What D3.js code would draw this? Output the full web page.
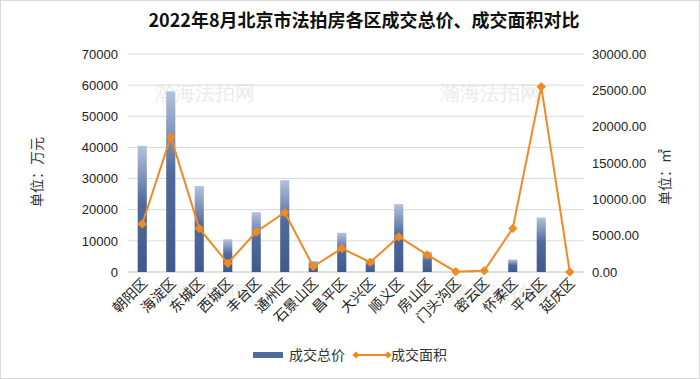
<!DOCTYPE html>
<html>
<head>
<meta charset="utf-8">
<script src="https://cdn.jsdelivr.net/npm/d3@7"></script>
<style>
  body { margin: 0; background: #fff; }
  svg { font-family: "Microsoft YaHei", "Noto Sans CJK SC", "Noto Sans", sans-serif; }
</style>
</head>
<body>
<div id="chart"></div>
<script>
// districts and values
const districts = ['朝阳区', '海淀区', '东城区', '西城区', '丰台区', '通州区', '石景山区', '昌平区',
  '大兴区', '顺义区', '房山区', '门头沟区', '密云区', '怀柔区', '平谷区', '延庆区'];
const totalPrice = [40500, 58000, 27600, 10500, 19200, 29500, 3500, 12600,
  4000, 21800, 6500, 0, 0, 4000, 17500, 0];
const totalArea = [6600, 18600, 6000, 1200, 5550, 8200, 750, 3250,
  1350, 4850, 2350, 50, 180, 6000, 25500, 0];
const leftTicks = [0, 10000, 20000, 30000, 40000, 50000, 60000, 70000];
const rightTicks = [0, 5000, 10000, 15000, 20000, 25000, 30000];

const width = 700, height = 379;
const margin = { top: 54, right: 116, bottom: 107, left: 128 };
const innerW = width - margin.left - margin.right;
const innerH = height - margin.top - margin.bottom;

const svg = d3.select('#chart')
  .append('svg')
  .attr('width', width)
  .attr('height', height);

// outer frame
svg.append('rect')
  .attr('x', 0.5).attr('y', 0.5)
  .attr('width', width - 1).attr('height', height - 1)
  .attr('fill', '#fff')
  .attr('stroke', '#d9d9d9');

// bar gradient
const grad = svg.append('defs').append('linearGradient')
  .attr('id', 'barGrad')
  .attr('x1', 0).attr('y1', 0).attr('x2', 0).attr('y2', 1);
grad.append('stop').attr('offset', '0%').attr('stop-color', '#b4c2dc');
grad.append('stop').attr('offset', '45%').attr('stop-color', '#4f6b9c');
grad.append('stop').attr('offset', '100%').attr('stop-color', '#40598a');

// faint watermarks
const marks = [[205, 100], [490, 100], [205, 300], [500, 300]];
svg.selectAll('.wm')
  .data(marks)
  .enter()
  .append('text')
  .attr('x', d => d[0])
  .attr('y', d => d[1])
  .attr('text-anchor', 'middle')
  .attr('fill', '#ebebeb')
  .attr('font-size', 20)
  .attr('font-family', 'serif')
  .text('瀚海法拍网');

const g = svg.append('g')
  .attr('transform', `translate(${margin.left},${margin.top})`);

const x = d3.scaleBand()
  .domain(districts)
  .range([0, innerW])
  .paddingInner(0.68)
  .paddingOuter(0.34);

const yLeft = d3.scaleLinear().domain([0, 70000]).range([innerH, 0]);
const yRight = d3.scaleLinear().domain([0, 30000]).range([innerH, 0]);

// gridlines
g.append('g')
  .selectAll('line')
  .data(leftTicks)
  .enter()
  .append('line')
  .attr('x1', 0).attr('x2', innerW)
  .attr('y1', d => yLeft(d)).attr('y2', d => yLeft(d))
  .attr('stroke', d => d === 0 ? '#bfbfbf' : '#d9d9d9')
  .attr('stroke-width', 1);

// left axis
const leftAxis = g.append('g')
  .call(d3.axisLeft(yLeft).tickValues(leftTicks).tickSize(0).tickPadding(10).tickFormat(d3.format('d')));
leftAxis.select('.domain').remove();
leftAxis.selectAll('text').attr('font-size', 13).attr('fill', '#222');

// right axis
const rightAxis = g.append('g')
  .attr('transform', `translate(${innerW},0)`)
  .call(d3.axisRight(yRight).tickValues(rightTicks).tickSize(0).tickPadding(8).tickFormat(d3.format('.2f')));
rightAxis.select('.domain').remove();
rightAxis.selectAll('text').attr('font-size', 13).attr('fill', '#222');

// bars
g.selectAll('.bar')
  .data(totalPrice)
  .enter()
  .append('rect')
  .attr('x', (d, i) => x(districts[i]))
  .attr('y', d => yLeft(d))
  .attr('width', x.bandwidth())
  .attr('height', d => innerH - yLeft(d))
  .attr('fill', 'url(#barGrad)');

// line
const cx = i => x(districts[i]) + x.bandwidth() / 2;
const line = d3.line()
  .x((d, i) => cx(i))
  .y(d => yRight(d));

g.append('path')
  .datum(totalArea)
  .attr('d', line)
  .attr('fill', 'none')
  .attr('stroke', '#f08a24')
  .attr('stroke-width', 2);

// square turned 45 degrees, slightly rounded
const marker = d3.symbol().type(d3.symbolSquare).size(22);
g.selectAll('.pt')
  .data(totalArea)
  .enter()
  .append('path')
  .attr('d', marker)
  .attr('transform', (d, i) => `translate(${cx(i)},${yRight(d)}) rotate(45)`)
  .attr('fill', '#f08a24')
  .attr('stroke', '#f08a24')
  .attr('stroke-width', 2)
  .attr('stroke-linejoin', 'round');

// x labels
g.append('g')
  .selectAll('text')
  .data(districts)
  .enter()
  .append('text')
  .attr('transform', d => `translate(${x(d) + x.bandwidth() / 2 + 6},${innerH + 12}) rotate(-45)`)
  .attr('text-anchor', 'end')
  .attr('font-size', 14)
  .attr('fill', '#222')
  .text(d => d);

// title
svg.append('text')
  .attr('x', 364)
  .attr('y', 27)
  .attr('text-anchor', 'middle')
  .attr('font-size', 18)
  .attr('font-weight', 'bold')
  .attr('fill', '#111')
  .text('2022年8月北京市法拍房各区成交总价、成交面积对比');

// axis titles
svg.append('text')
  .attr('transform', 'translate(42,172) rotate(-90)')
  .attr('text-anchor', 'middle')
  .attr('font-size', 14)
  .attr('fill', '#333')
  .text('单位：万元');

svg.append('text')
  .attr('transform', 'translate(670,177) rotate(-90)')
  .attr('text-anchor', 'middle')
  .attr('font-size', 14)
  .attr('fill', '#333')
  .text('单位：㎡');

// legend
const legendMarker = d3.symbol().type(d3.symbolSquare).size(26);
const legend = svg.append('g').attr('transform', 'translate(253,355)');
legend.append('rect')
  .attr('x', 0).attr('y', -3)
  .attr('width', 30).attr('height', 6)
  .attr('fill', '#4f6b9c');
legend.append('text')
  .attr('x', 36).attr('y', 5)
  .attr('font-size', 14)
  .attr('fill', '#333')
  .text('成交总价');
legend.append('line')
  .attr('x1', 103).attr('x2', 135)
  .attr('y1', 0).attr('y2', 0)
  .attr('stroke', '#f08a24')
  .attr('stroke-width', 2);
legend.selectAll('.lm')
  .data([103, 135])
  .enter()
  .append('path')
  .attr('d', legendMarker)
  .attr('transform', d => `translate(${d},0) rotate(45)`)
  .attr('fill', '#f08a24');
legend.append('text')
  .attr('x', 138).attr('y', 5)
  .attr('font-size', 14)
  .attr('fill', '#333')
  .text('成交面积');
</script>
</body>
</html>
